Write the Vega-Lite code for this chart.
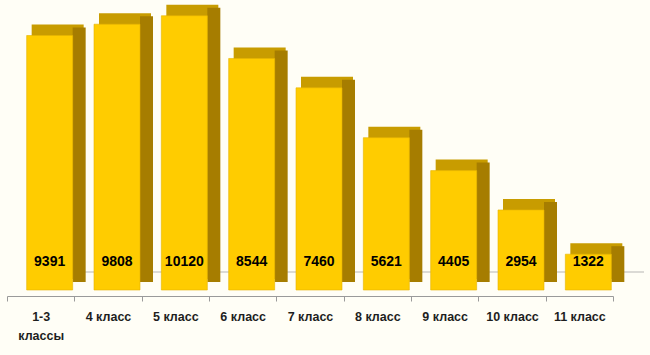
{
  "$schema": "https://vega.github.io/schema/vega-lite/v6.json",
  "width": 606,
  "height": 280,
  "autosize": "none",
  "padding": {"left": 7, "right": 37, "top": 10, "bottom": 65},
  "background": "#FFFEF6",
  "config": {"view": {"stroke": null}},
  "data": {"values": [
    {"class": "1-3 классы", "value": 9391},
    {"class": "4 класс", "value": 9808},
    {"class": "5 класс", "value": 10120},
    {"class": "6 класс", "value": 8544},
    {"class": "7 класс", "value": 7460},
    {"class": "8 класс", "value": 5621},
    {"class": "9 класс", "value": 4405},
    {"class": "10 класс", "value": 2954},
    {"class": "11 класс", "value": 1322}
  ]},
  "layer": [
    {
      "mark": {"type": "tick", "color": "#9a9a9a", "size": 67.4, "thickness": 1, "xOffset": 31, "yOffset": -18, "orient": "horizontal"},
      "encoding": {
        "x": {
          "field": "class", "type": "nominal", "sort": null,
          "scale": {"paddingInner": 0, "paddingOuter": 0},
          "axis": {
            "title": null, "labelAngle": 0, "tickBand": "extent", "offset": 6,
            "tickSize": 5, "tickColor": "#9a9a9a", "domainColor": "#9a9a9a",
            "labelFont": "Liberation Sans", "labelFontWeight": "bold", "labelFontSize": 12.5,
            "labelColor": "#1e1e1e", "labelPadding": 9, "labelLineHeight": 19, "labelLimit": 0,
            "labelExpr": "datum.label == '1-3 классы' ? ['1-3', 'классы'] : datum.label"
          }
        },
        "y": {"datum": 0, "type": "quantitative", "scale": {"domain": [0, 10332], "nice": false}, "axis": null}
      }
    },
    {
      "mark": {"type": "bar", "color": "#C89C00", "width": 52, "xOffset": 17, "yOffset": -11, "y2Offset": -11},
      "encoding": {
        "x": {"field": "class", "type": "nominal", "sort": null},
        "y": {"field": "value", "type": "quantitative"}
      }
    },
    {
      "mark": {"type": "bar", "color": "#A67D00", "width": 13, "xOffset": 38.5, "yOffset": -8, "y2Offset": -5},
      "encoding": {
        "x": {"field": "class", "type": "nominal", "sort": null},
        "y": {"field": "value", "type": "quantitative"}
      }
    },
    {
      "mark": {"type": "bar", "color": "#FFCC00", "width": 46, "xOffset": 9, "stroke": "#E6B400", "strokeWidth": 0.6},
      "encoding": {
        "x": {"field": "class", "type": "nominal", "sort": null},
        "y": {"field": "value", "type": "quantitative"}
      }
    },
    {
      "mark": {"type": "text", "xOffset": 9, "dy": -28, "font": "Liberation Sans", "fontWeight": "bold", "fontSize": 14, "color": "#000000", "baseline": "middle"},
      "encoding": {
        "x": {"field": "class", "type": "nominal", "sort": null},
        "y": {"datum": 0, "type": "quantitative"},
        "text": {"field": "value", "type": "quantitative", "format": "d"}
      }
    }
  ]
}
